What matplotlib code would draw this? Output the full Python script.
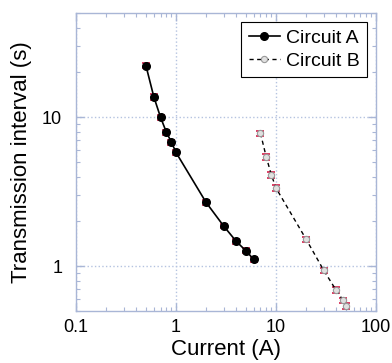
import matplotlib
matplotlib.use('Agg')
import matplotlib.pyplot as plt
from matplotlib.ticker import LogLocator, FixedFormatter, FixedLocator, NullFormatter

plt.rcParams['font.family'] = ['Liberation Sans', 'DejaVu Sans']

# circuit A
current_a = [0.5, 0.6, 0.7, 0.8, 0.9, 1.0, 2.0, 3.0, 4.0, 5.0, 6.0]
interval_a = [22.2, 13.7, 10.0, 7.95, 6.8, 5.8, 2.68, 1.86, 1.47, 1.27, 1.11]
err_a = [0.9, 0.6, 0.35, 0.3, 0.25, 0.2, 0.1, 0.06, 0.05, 0.05, 0.05]

# circuit B
current_b = [7, 8, 9, 10, 20, 30, 40, 47, 50]
interval_b = [7.8, 5.4, 4.1, 3.35, 1.52, 0.94, 0.69, 0.59, 0.545]
err_b = [0.3, 0.25, 0.18, 0.15, 0.06, 0.04, 0.03, 0.025, 0.025]

xticks = [0.1, 1, 10, 100]
xtick_labels = ['0.1', '1', '10', '100']
yticks = [1, 10]
ytick_labels = ['1', '10']

axis_col = '#a9b6d6'
grid_col = '#b5c3e0'
err_col = '#d4204c'

fig = plt.figure(figsize=(3.92, 3.63), dpi=100)
ax = fig.add_axes([0.194, 0.143, 0.765, 0.821])

ax.errorbar(current_a, interval_a, yerr=err_a, fmt='none', ecolor=err_col,
            elinewidth=1.2, capsize=3, capthick=1.2, zorder=2)
ax.errorbar(current_b, interval_b, yerr=err_b, fmt='none', ecolor=err_col,
            elinewidth=1.2, capsize=3, capthick=1.2, zorder=2)
ax.plot(current_a, interval_a, '-', color='black', lw=1.2, marker='o', ms=5.5,
        mfc='black', mec='black', label='Circuit A', zorder=3)
ax.plot(current_b, interval_b, '--', color='black', lw=1.0, marker='o', ms=4.5,
        mfc='#e0e0e0', mec='#999999', mew=0.8, dashes=(3, 2.5),
        label='Circuit B', zorder=3)

ax.set_xscale('log')
ax.set_yscale('log')
ax.set_xlim(0.1, 100)
ax.set_ylim(0.5, 50)

ax.xaxis.set_major_locator(FixedLocator(xticks))
ax.xaxis.set_major_formatter(FixedFormatter(xtick_labels))
ax.yaxis.set_major_locator(FixedLocator(yticks))
ax.yaxis.set_major_formatter(FixedFormatter(ytick_labels))
for a in (ax.xaxis, ax.yaxis):
    a.set_minor_locator(LogLocator(base=10, subs=range(2, 10)))
    a.set_minor_formatter(NullFormatter())

ax.tick_params(which='both', direction='in', top=True, right=True,
               color=axis_col, labelsize=13, labelcolor='black')
ax.tick_params(which='major', length=6, width=1)
ax.tick_params(axis='x', which='major', pad=6)
ax.tick_params(axis='y', which='major', pad=10)
ax.tick_params(which='minor', length=3, width=0.8)
for s in ax.spines.values():
    s.set_color(axis_col)
    s.set_linewidth(1.0)

ax.grid(True, which='major', linestyle=':', color=grid_col, lw=1.0)
ax.set_axisbelow(True)

ax.set_xlabel('Current (A)', fontsize=16, labelpad=2)
ax.set_ylabel('Transmission interval (s)', fontsize=16, labelpad=7)

leg = ax.legend(loc='upper right', fontsize=14, frameon=True, fancybox=False,
                edgecolor='black', framealpha=1, handlelength=1.6,
                handletextpad=0.3, borderpad=0.4, labelspacing=0.25,
                borderaxespad=0.45)
leg.get_frame().set_linewidth(0.8)

fig.savefig('out.png', dpi=100)
